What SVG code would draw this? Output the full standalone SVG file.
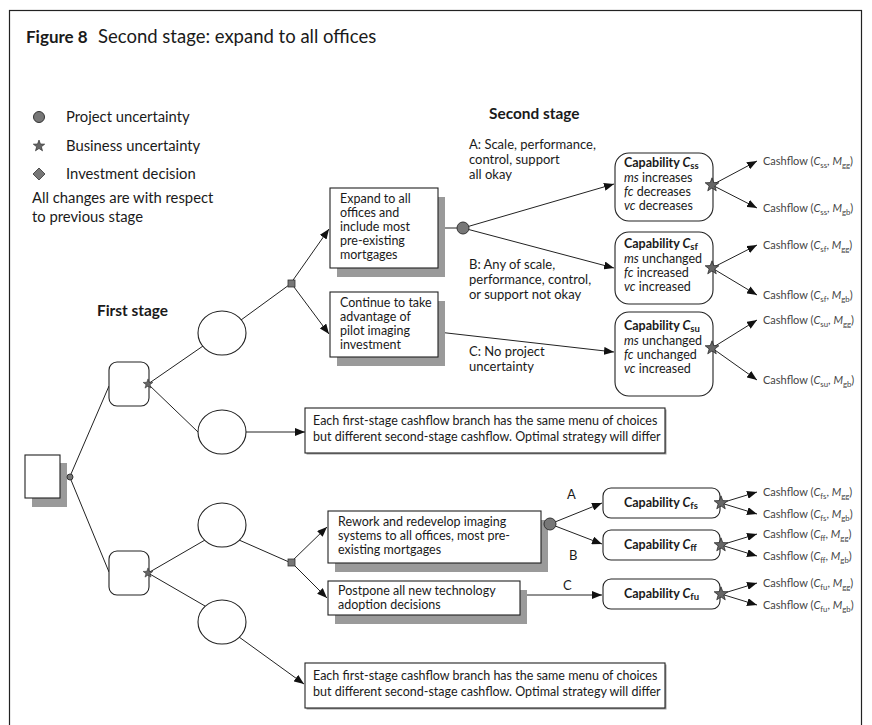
<svg xmlns="http://www.w3.org/2000/svg" width="872" height="725" viewBox="0 0 872 725">
<style>
text { font-family: Lato, "Open Sans", "Liberation Sans", sans-serif; fill: #1a1a1a; }
.t { font-size: 12.5px; }
.lb { font-size: 13px; }
.lg { font-size: 14.8px; }
.hd { font-size: 15.4px; font-weight: bold; }
.b { font-weight: bold; }
.i { font-style: italic; }
.sb { font-size: 9.5px; font-weight: bold; }
.cf { font-size: 11px; fill: #444; }
.cs { font-size: 7.8px; }
.box { fill: #fff; stroke: #222; stroke-width: 1.1; }
.shadow { fill: #9a9a9a; }
.ln { stroke: #222; stroke-width: 1; fill: none; }
.arr { stroke: #222; stroke-width: 1; fill: none; marker-end: url(#ah); }
.star { fill: #666; stroke: #222; stroke-width: 0.6; }
.pu { fill: #777; stroke: #333; stroke-width: 1; }
.dec { fill: #777; stroke: #333; stroke-width: 0.8; }
</style>
<defs>
<marker id="ah" viewBox="0 0 10 8" refX="10" refY="4" markerWidth="10" markerHeight="8" orient="auto" markerUnits="userSpaceOnUse">
<path d="M0,0 L10,4 L0,8 Z" fill="#111"/>
</marker>
<path id="star" d="M0,-6 L1.47,-2.02 L5.71,-1.85 L2.38,0.77 L3.53,4.85 L0,2.5 L-3.53,4.85 L-2.38,0.77 L-5.71,-1.85 L-1.47,-2.02 Z"/>
</defs>

<!-- frame and title -->
<rect x="9.5" y="10.5" width="852" height="730" fill="#fff" stroke="#222" stroke-width="1.2"/>
<text class="b" x="26" y="43" style="font-size:17px">Figure 8</text>
<text x="98" y="43" style="font-size:18.5px">Second stage: expand to all offices</text>

<!-- legend -->
<g id="legend">
<circle class="pu" cx="39" cy="117" r="5.5"/>
<text class="lg" x="66" y="122">Project uncertainty</text>
<use href="#star" class="star" transform="translate(39,146)"/>
<text class="lg" x="66" y="151">Business uncertainty</text>
<path class="dec" d="M39,168 L45,174 L39,180 L33,174 Z"/>
<text class="lg" x="66" y="179">Investment decision</text>
<text class="lg" x="32" y="203">All changes are with respect</text>
<text class="lg" x="32" y="222">to previous stage</text>
</g>

<text class="hd" x="489" y="119">Second stage</text>
<text class="hd" x="97" y="316">First stage</text>

<!-- connectors -->
<g id="connectors">
<line class="ln" x1="60" y1="477" x2="67" y2="477"/>
<line class="ln" x1="71" y1="474" x2="109" y2="386"/>
<line class="ln" x1="71" y1="480" x2="109" y2="572"/>
<line class="ln" x1="148" y1="384" x2="203" y2="346"/>
<line class="ln" x1="148" y1="384" x2="198" y2="432"/>
<line class="ln" x1="241" y1="320" x2="289" y2="285"/>
<line class="arr" x1="246" y1="432" x2="305" y2="432"/>
<line class="ln" x1="148" y1="573" x2="205" y2="540"/>
<line class="ln" x1="148" y1="573" x2="205" y2="606"/>
<line class="ln" x1="239" y1="540" x2="289" y2="562"/>
<line class="arr" x1="239" y1="637" x2="304" y2="684"/>

<line class="arr" x1="291" y1="283" x2="329" y2="229"/>
<line class="arr" x1="291" y1="283" x2="329" y2="334"/>
<line class="ln" x1="438" y1="228" x2="457" y2="228"/>
<line class="arr" x1="463" y1="228" x2="614" y2="184"/>
<line class="arr" x1="463" y1="228" x2="614" y2="268"/>
<line class="arr" x1="438" y1="332" x2="614" y2="352"/>

<line class="arr" x1="712" y1="185" x2="757" y2="161"/>
<line class="arr" x1="712" y1="185" x2="757" y2="208"/>
<line class="arr" x1="712" y1="268" x2="757" y2="245"/>
<line class="arr" x1="712" y1="268" x2="757" y2="295"/>
<line class="arr" x1="712" y1="348" x2="757" y2="320"/>
<line class="arr" x1="712" y1="348" x2="757" y2="380"/>

<line class="arr" x1="291" y1="562" x2="327" y2="527"/>
<line class="arr" x1="291" y1="562" x2="327" y2="598"/>
<line class="ln" x1="541" y1="524" x2="545" y2="524"/>
<line class="arr" x1="550" y1="524" x2="602" y2="503"/>
<line class="arr" x1="550" y1="524" x2="602" y2="544"/>
<line class="arr" x1="520" y1="595" x2="602" y2="595"/>

<line class="arr" x1="721" y1="503" x2="757" y2="492"/>
<line class="arr" x1="721" y1="503" x2="757" y2="514"/>
<line class="arr" x1="721" y1="545" x2="757" y2="534"/>
<line class="arr" x1="721" y1="545" x2="757" y2="556"/>
<line class="arr" x1="721" y1="594" x2="757" y2="583"/>
<line class="arr" x1="721" y1="594" x2="757" y2="605"/>
</g>

<!-- branch labels -->
<g id="branch-labels">
<text class="lb" x="469" y="149">A: Scale, performance,</text>
<text class="lb" x="469" y="164">control, support</text>
<text class="lb" x="469" y="179">all okay</text>
<text class="lb" x="469" y="269">B: Any of scale,</text>
<text class="lb" x="469" y="284">performance, control,</text>
<text class="lb" x="469" y="299">or support not okay</text>
<text class="lb" x="469" y="356">C: No project</text>
<text class="lb" x="469" y="371">uncertainty</text>
<text class="lb" x="567" y="499">A</text>
<text class="lb" x="569" y="560">B</text>
<text class="lb" x="563" y="590">C</text>
</g>

<!-- first stage -->
<g id="start">
<rect class="shadow" x="32" y="463" width="35" height="44"/>
<rect class="box" x="25" y="455" width="35" height="43"/>
<circle class="pu" cx="70" cy="477" r="3"/>
</g>
<g id="stage1-upper">
<rect class="box" x="109" y="362" width="40" height="44" rx="8"/>
<use href="#star" class="star" transform="translate(148,384) scale(0.85)"/>
</g>
<g id="stage1-lower">
<rect class="box" x="109" y="551" width="40" height="44" rx="8"/>
<use href="#star" class="star" transform="translate(148,573) scale(0.85)"/>
</g>
<g id="cash1"><ellipse class="box" cx="222" cy="333" rx="24" ry="22"/></g>
<g id="cash2"><ellipse class="box" cx="222" cy="432" rx="24" ry="22"/></g>
<g id="cash3"><ellipse class="box" cx="222" cy="525" rx="24" ry="22"/></g>
<g id="cash4"><ellipse class="box" cx="222" cy="622" rx="24" ry="22"/></g>

<!-- second-stage decisions (upper branch) -->
<g id="decision-upper"><rect class="dec" x="288" y="280" width="7" height="7"/></g>
<g id="expand">
<rect class="shadow" x="337" y="197" width="108" height="80"/>
<rect class="box" x="330" y="188" width="108" height="80"/>
<text class="t" x="340" y="203">Expand to all</text>
<text class="t" x="340" y="217">offices and</text>
<text class="t" x="340" y="231">include most</text>
<text class="t" x="340" y="245">pre-existing</text>
<text class="t" x="340" y="259">mortgages</text>
</g>
<g id="continue">
<rect class="shadow" x="337" y="301" width="108" height="65"/>
<rect class="box" x="330" y="292" width="108" height="65"/>
<text class="t" x="340" y="307">Continue to take</text>
<text class="t" x="340" y="321">advantage of</text>
<text class="t" x="340" y="335">pilot imaging</text>
<text class="t" x="340" y="349">investment</text>
</g>
<g id="project-upper"><circle class="pu" cx="463" cy="228" r="6"/></g>

<g id="cap-ss">
<rect class="box" x="615" y="153" width="98" height="68" rx="14"/>
<text class="t b" x="624" y="167">Capability <tspan class="i">C</tspan><tspan class="sb" dy="1.5">ss</tspan></text>
<text class="t" x="624" y="182"><tspan class="i">ms</tspan> increases</text>
<text class="t" x="624" y="196"><tspan class="i">fc</tspan> decreases</text>
<text class="t" x="624" y="210"><tspan class="i">vc</tspan> decreases</text>
<use href="#star" class="star" transform="translate(712,185) scale(1.2)"/>
</g>
<g id="cap-sf">
<rect class="box" x="615" y="232" width="98" height="72" rx="14"/>
<text class="t b" x="624" y="248">Capability <tspan class="i">C</tspan><tspan class="sb" dy="1.5">sf</tspan></text>
<text class="t" x="624" y="263"><tspan class="i">ms</tspan> unchanged</text>
<text class="t" x="624" y="277"><tspan class="i">fc</tspan> increased</text>
<text class="t" x="624" y="291"><tspan class="i">vc</tspan> increased</text>
<use href="#star" class="star" transform="translate(712,268) scale(1.2)"/>
</g>
<g id="cap-su">
<rect class="box" x="615" y="312" width="98" height="84" rx="14"/>
<text class="t b" x="624" y="330">Capability <tspan class="i">C</tspan><tspan class="sb" dy="1.5">su</tspan></text>
<text class="t" x="624" y="345"><tspan class="i">ms</tspan> unchanged</text>
<text class="t" x="624" y="359"><tspan class="i">fc</tspan> unchanged</text>
<text class="t" x="624" y="373"><tspan class="i">vc</tspan> increased</text>
<use href="#star" class="star" transform="translate(712,348) scale(1.2)"/>
</g>

<g id="cashflows-upper">
<text class="cf" x="763" y="165">Cashflow (<tspan class="i">C</tspan><tspan class="cs" dy="2.5">ss</tspan><tspan dy="-2.5">, </tspan><tspan class="i">M</tspan><tspan class="cs" dy="2.5">gg</tspan><tspan dy="-2.5">)</tspan></text>
<text class="cf" x="763" y="212">Cashflow (<tspan class="i">C</tspan><tspan class="cs" dy="2.5">ss</tspan><tspan dy="-2.5">, </tspan><tspan class="i">M</tspan><tspan class="cs" dy="2.5">gb</tspan><tspan dy="-2.5">)</tspan></text>
<text class="cf" x="763" y="249">Cashflow (<tspan class="i">C</tspan><tspan class="cs" dy="2.5">sf</tspan><tspan dy="-2.5">, </tspan><tspan class="i">M</tspan><tspan class="cs" dy="2.5">gg</tspan><tspan dy="-2.5">)</tspan></text>
<text class="cf" x="763" y="299">Cashflow (<tspan class="i">C</tspan><tspan class="cs" dy="2.5">sf</tspan><tspan dy="-2.5">, </tspan><tspan class="i">M</tspan><tspan class="cs" dy="2.5">gb</tspan><tspan dy="-2.5">)</tspan></text>
<text class="cf" x="763" y="324">Cashflow (<tspan class="i">C</tspan><tspan class="cs" dy="2.5">su</tspan><tspan dy="-2.5">, </tspan><tspan class="i">M</tspan><tspan class="cs" dy="2.5">gg</tspan><tspan dy="-2.5">)</tspan></text>
<text class="cf" x="763" y="384">Cashflow (<tspan class="i">C</tspan><tspan class="cs" dy="2.5">su</tspan><tspan dy="-2.5">, </tspan><tspan class="i">M</tspan><tspan class="cs" dy="2.5">gb</tspan><tspan dy="-2.5">)</tspan></text>
</g>

<g id="note-upper">
<rect class="shadow" x="306.5" y="409.5" width="360" height="45"/>
<rect class="box" x="305" y="408" width="360" height="45"/>
<text class="t" x="313" y="425">Each first-stage cashflow branch has the same menu of choices</text>
<text class="t" x="313" y="441">but different second-stage cashflow. Optimal strategy will differ</text>
</g>

<!-- second-stage decisions (lower branch) -->
<g id="decision-lower"><rect class="dec" x="288" y="559" width="7" height="7"/></g>
<g id="rework">
<rect class="shadow" x="335" y="520" width="213" height="52"/>
<rect class="box" x="328" y="511" width="213" height="52"/>
<text class="t" x="338" y="526">Rework and redevelop imaging</text>
<text class="t" x="338" y="540">systems to all offices, most pre-</text>
<text class="t" x="338" y="554">existing mortgages</text>
</g>
<g id="postpone">
<rect class="shadow" x="335" y="590" width="192" height="34"/>
<rect class="box" x="328" y="581" width="192" height="34"/>
<text class="t" x="338" y="595">Postpone all new technology</text>
<text class="t" x="338" y="609">adoption decisions</text>
</g>
<g id="project-lower"><circle class="pu" cx="550" cy="524" r="6"/></g>

<g id="cap-fs">
<rect class="box" x="603" y="488" width="117" height="30" rx="8"/>
<text class="t b" x="624" y="507">Capability <tspan class="i">C</tspan><tspan class="sb" dy="1.5">fs</tspan></text>
<use href="#star" class="star" transform="translate(721,503) scale(1.2)"/>
</g>
<g id="cap-ff">
<rect class="box" x="603" y="530" width="117" height="30" rx="8"/>
<text class="t b" x="624" y="549">Capability <tspan class="i">C</tspan><tspan class="sb" dy="1.5">ff</tspan></text>
<use href="#star" class="star" transform="translate(721,545) scale(1.2)"/>
</g>
<g id="cap-fu">
<rect class="box" x="603" y="579" width="117" height="30" rx="8"/>
<text class="t b" x="624" y="598">Capability <tspan class="i">C</tspan><tspan class="sb" dy="1.5">fu</tspan></text>
<use href="#star" class="star" transform="translate(721,594) scale(1.2)"/>
</g>

<g id="cashflows-lower">
<text class="cf" x="763" y="496">Cashflow (<tspan class="i">C</tspan><tspan class="cs" dy="2.5">fs</tspan><tspan dy="-2.5">, </tspan><tspan class="i">M</tspan><tspan class="cs" dy="2.5">gg</tspan><tspan dy="-2.5">)</tspan></text>
<text class="cf" x="763" y="518">Cashflow (<tspan class="i">C</tspan><tspan class="cs" dy="2.5">fs</tspan><tspan dy="-2.5">, </tspan><tspan class="i">M</tspan><tspan class="cs" dy="2.5">gb</tspan><tspan dy="-2.5">)</tspan></text>
<text class="cf" x="763" y="538">Cashflow (<tspan class="i">C</tspan><tspan class="cs" dy="2.5">ff</tspan><tspan dy="-2.5">, </tspan><tspan class="i">M</tspan><tspan class="cs" dy="2.5">gg</tspan><tspan dy="-2.5">)</tspan></text>
<text class="cf" x="763" y="560">Cashflow (<tspan class="i">C</tspan><tspan class="cs" dy="2.5">ff</tspan><tspan dy="-2.5">, </tspan><tspan class="i">M</tspan><tspan class="cs" dy="2.5">gb</tspan><tspan dy="-2.5">)</tspan></text>
<text class="cf" x="763" y="587">Cashflow (<tspan class="i">C</tspan><tspan class="cs" dy="2.5">fu</tspan><tspan dy="-2.5">, </tspan><tspan class="i">M</tspan><tspan class="cs" dy="2.5">gg</tspan><tspan dy="-2.5">)</tspan></text>
<text class="cf" x="763" y="609">Cashflow (<tspan class="i">C</tspan><tspan class="cs" dy="2.5">fu</tspan><tspan dy="-2.5">, </tspan><tspan class="i">M</tspan><tspan class="cs" dy="2.5">gb</tspan><tspan dy="-2.5">)</tspan></text>
</g>

<g id="note-lower">
<rect class="shadow" x="306.5" y="664.5" width="360" height="45"/>
<rect class="box" x="305" y="663" width="360" height="45"/>
<text class="t" x="313" y="680">Each first-stage cashflow branch has the same menu of choices</text>
<text class="t" x="313" y="696">but different second-stage cashflow. Optimal strategy will differ</text>
</g>
</svg>
